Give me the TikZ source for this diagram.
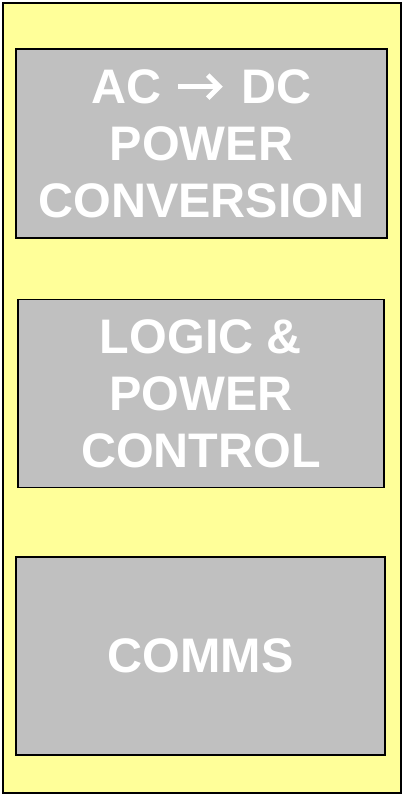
\documentclass[tikz,border=0pt]{standalone}
\usepackage{fontspec}
\setmainfont{Liberation Sans}
\definecolor{bgyellow}{HTML}{FFFF99}
\definecolor{boxgray}{HTML}{C0C0C0}
\newcommand{\chevarrow}{\tikz[baseline=0pt,x=1pt,y=1pt]{\draw[white,line width=5pt,line cap=butt] (0,16.5) -- (41,16.5); \draw[white,line width=5pt,line join=miter] (30,28) -- (41.5,16.5) -- (30,5);}}
\begin{document}
\begin{tikzpicture}[x=1pt,y=-1pt,
  blockbox/.style={draw=black,line width=1.3pt,fill=boxgray,inner sep=0pt,
    align=center,text=white,font=\fontsize{48.5}{57}\selectfont\bfseries}]
\useasboundingbox (0,0) rectangle (402,794);
\node[draw=black,line width=2pt,fill=bgyellow,minimum width=398pt,minimum height=790pt,inner sep=0pt,anchor=north west] (frame) at (2,2) {};
\node[blockbox,minimum width=371pt,minimum height=189pt] (conv) at (201.5,143.5) {AC\hspace{14pt}\chevarrow\hspace{20pt}DC\\POWER\\CONVERSION};
\node[blockbox,minimum width=366pt,minimum height=188pt] (logic) at (201,393.5) {LOGIC \&\\POWER\\CONTROL};
\node[blockbox,minimum width=369pt,minimum height=198pt] (comms) at (200.5,656) {COMMS};
\end{tikzpicture}
\end{document}
